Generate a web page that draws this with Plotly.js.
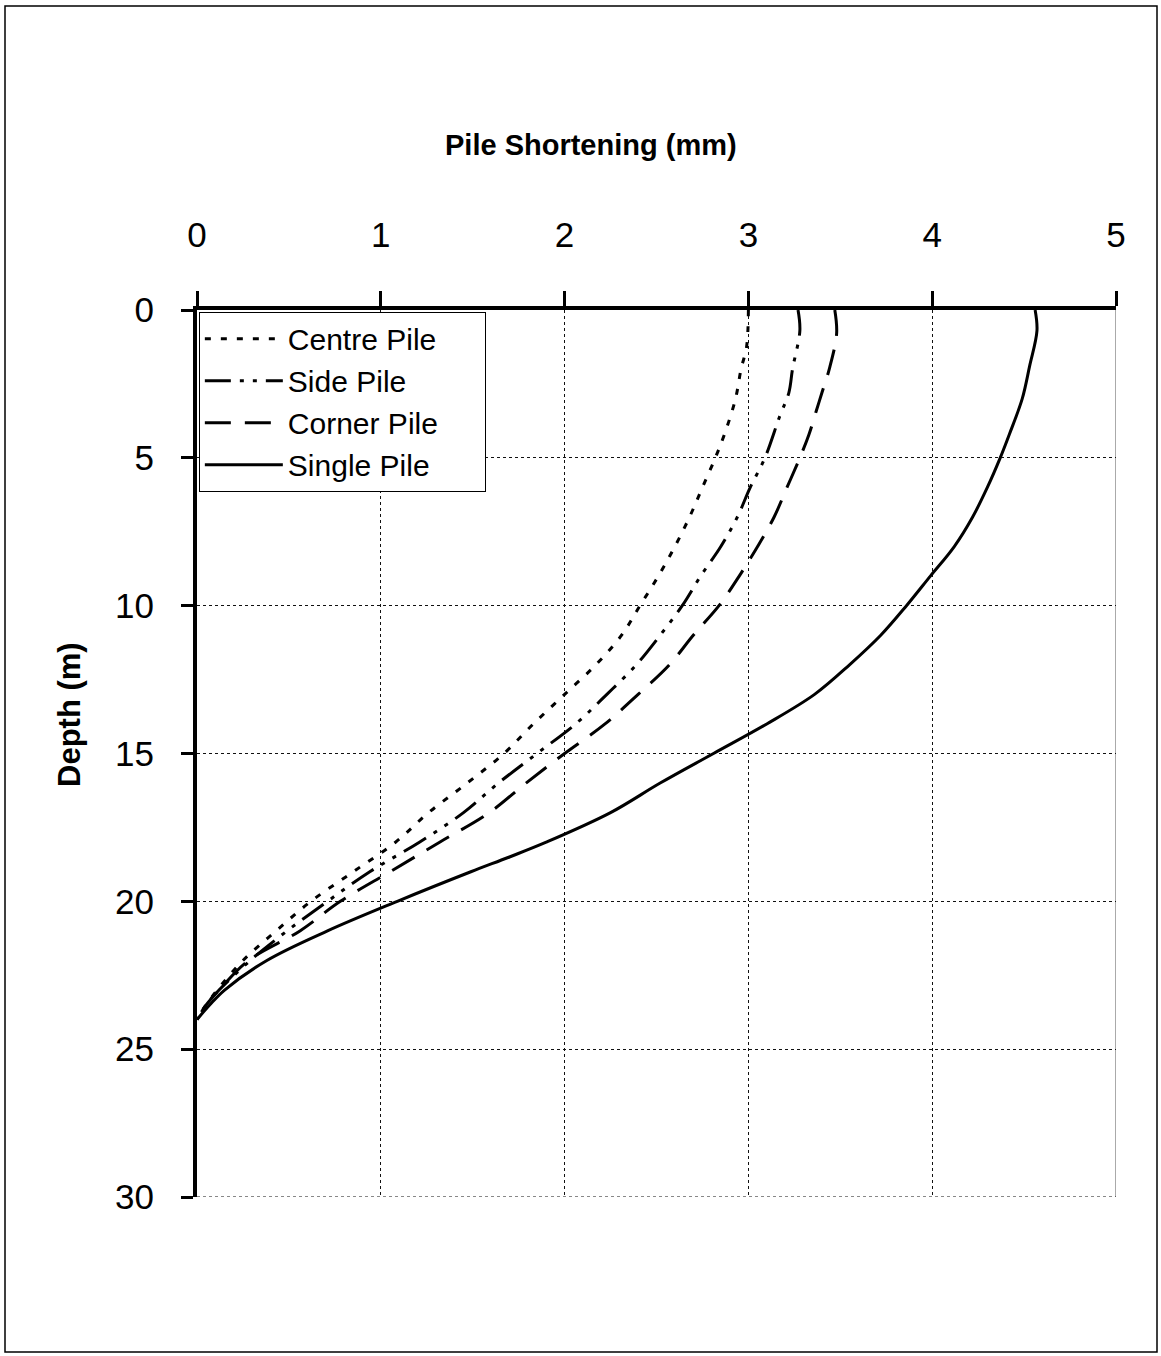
<!DOCTYPE html>
<html>
<head>
<meta charset="utf-8">
<script src="https://cdn.plot.ly/plotly-3.0.1.min.js"></script>
<style>
html,body{margin:0;padding:0;background:#fff;}
#chart{width:1161px;height:1356px;}
</style>
</head>
<body>
<div id="chart"></div>
<script>
// Depth (m) and pile shortening (mm)
const centreDepth = [0, 1.25, 2, 3, 4.2, 5, 6, 7, 8, 9, 10, 11, 12, 13, 14, 15, 16, 17, 18, 19, 20, 21, 22, 23, 23.5, 24];
const centreShort = [3.00, 2.99, 2.96, 2.93, 2.87, 2.82, 2.75, 2.68, 2.60, 2.51, 2.41, 2.31, 2.17, 2.00, 1.83, 1.67, 1.47, 1.26, 1.08, 0.85, 0.62, 0.43, 0.25, 0.11, 0.05, 0];

const sideDepth = [0, 0.7, 2, 2.8, 3.6, 5, 6, 7, 8, 9, 10, 11, 12, 13, 14, 15, 16, 17, 18, 19, 20, 21, 22, 23, 23.5, 24];
const sideShort = [3.27, 3.28, 3.24, 3.22, 3.17, 3.09, 3.01, 2.94, 2.85, 2.74, 2.64, 2.52, 2.39, 2.23, 2.06, 1.85, 1.64, 1.45, 1.21, 0.94, 0.71, 0.49, 0.29, 0.12, 0.05, 0];

const cornerDepth = [0, 0.8, 2, 2.8, 3.4, 4.2, 5, 6, 7, 8, 9, 10, 11, 12, 13, 14, 15, 16, 17, 18, 19, 20, 21, 22, 23, 23.5, 24];
const cornerShort = [3.47, 3.48, 3.44, 3.40, 3.37, 3.33, 3.28, 3.21, 3.14, 3.05, 2.95, 2.84, 2.70, 2.57, 2.40, 2.22, 2.00, 1.79, 1.59, 1.32, 1.05, 0.78, 0.56, 0.28, 0.12, 0.05, 0];

const singleDepth = [0, 0.7, 1.9, 3, 4.2, 5, 6, 7, 8, 9, 10, 11, 12, 13, 14, 15, 16, 17, 18, 18.5, 19, 20, 21, 22, 23, 23.5, 24];
const singleShort = [4.56, 4.57, 4.53, 4.49, 4.42, 4.37, 4.30, 4.22, 4.12, 3.99, 3.86, 3.72, 3.55, 3.36, 3.10, 2.81, 2.52, 2.25, 1.90, 1.70, 1.49, 1.09, 0.71, 0.38, 0.15, 0.07, 0];

const seriesNames = ["Centre Pile", "Side Pile", "Corner Pile", "Single Pile"];
const xTicks = [0, 1, 2, 3, 4, 5];
const yTicks = [0, 5, 10, 15, 20, 25, 30];
const xTitle = "Pile Shortening (mm)";
const yTitle = "Depth (m)";

const FONT = "Arial, 'Liberation Sans', Helvetica, sans-serif";

function trace(x, y, name, dash) {
  return {
    x: x, y: y, name: name, type: "scatter", mode: "lines",
    line: {color: "#000", width: 3, dash: dash, shape: "spline", smoothing: 1.0},
    hoverinfo: "skip"
  };
}

const data = [
  trace(centreShort, centreDepth, seriesNames[0], "6px,10px"),
  trace(sideShort, sideDepth, seriesNames[1], "26px,9px,4px,9px,4px,9px"),
  trace(cornerShort, cornerDepth, seriesNames[2] + "\u00a0\u00a0\u00a0\u00a0\u00a0", "26px,14px"),
  trace(singleShort, singleDepth, seriesNames[3], "solid")
];

const layout = {
  width: 1161, height: 1356,
  margin: {l: 197, r: 45, t: 310, b: 159},
  paper_bgcolor: "#fff", plot_bgcolor: "#fff",
  font: {family: FONT, color: "#000"},
  showlegend: true,
  legend: {
    x: 0.002, y: 0.998, xanchor: "left", yanchor: "top",
    bgcolor: "#fff", bordercolor: "#000", borderwidth: 1,
    font: {family: FONT, size: 30, color: "#000"},
    itemwidth: 78
  },
  xaxis: {
    side: "top", range: [0, 5],
    tickvals: xTicks, ticktext: xTicks.map(String),
    ticks: "outside", ticklen: 15, tickwidth: 3, tickcolor: "#000",
    ticklabelstandoff: 30,
    tickfont: {family: FONT, size: 35, color: "#000"},
    showline: true, linewidth: 4, linecolor: "#000",
    showgrid: true, gridcolor: "#111", gridwidth: 1, griddash: "3px,3px",
    zeroline: false
  },
  yaxis: {
    range: [30, 0],
    tickvals: yTicks, ticktext: yTicks.map(String),
    ticks: "outside", ticklen: 12, tickwidth: 3, tickcolor: "#000",
    ticklabelstandoff: 20,
    tickfont: {family: FONT, size: 35, color: "#000"},
    showline: true, linewidth: 4, linecolor: "#000",
    showgrid: true, gridcolor: "#111", gridwidth: 1, griddash: "3px,3px",
    zeroline: false
  },
  annotations: [
    {text: "<b>" + xTitle + "</b>", xref: "paper", yref: "paper",
     x: (591 - 197) / 919, y: 1 + (310 - 145) / 887, xanchor: "center", yanchor: "middle",
     showarrow: false, font: {family: FONT, size: 29, color: "#000"}},
    {text: "<b>" + yTitle + "</b>", xref: "paper", yref: "paper", textangle: -90,
     x: (69 - 197) / 919, y: 1 - (715 - 310) / 887, xanchor: "center", yanchor: "middle",
     showarrow: false, font: {family: FONT, size: 31, color: "#000"}}
  ],
  shapes: [
    {type: "line", xref: "x", yref: "paper", x0: 5, x1: 5, y0: 0, y1: 1,
     line: {color: "#555", width: 1}, layer: "below"},
    {type: "line", xref: "paper", yref: "y", x0: 0, x1: 1, y0: 30, y1: 30,
     line: {color: "#111", width: 1, dash: "3px,3px"}, layer: "below"},
    {type: "rect", xref: "paper", yref: "paper",
     x0: (5 - 197) / 919, x1: (1157 - 197) / 919,
     y0: 1 - (1352 - 310) / 887, y1: 1 - (6 - 310) / 887,
     line: {color: "#000", width: 1.5}, fillcolor: "rgba(0,0,0,0)", layer: "below"}
  ]
};

Plotly.newPlot("chart", data, layout, {staticPlot: true, displayModeBar: false});
</script>
</body>
</html>
